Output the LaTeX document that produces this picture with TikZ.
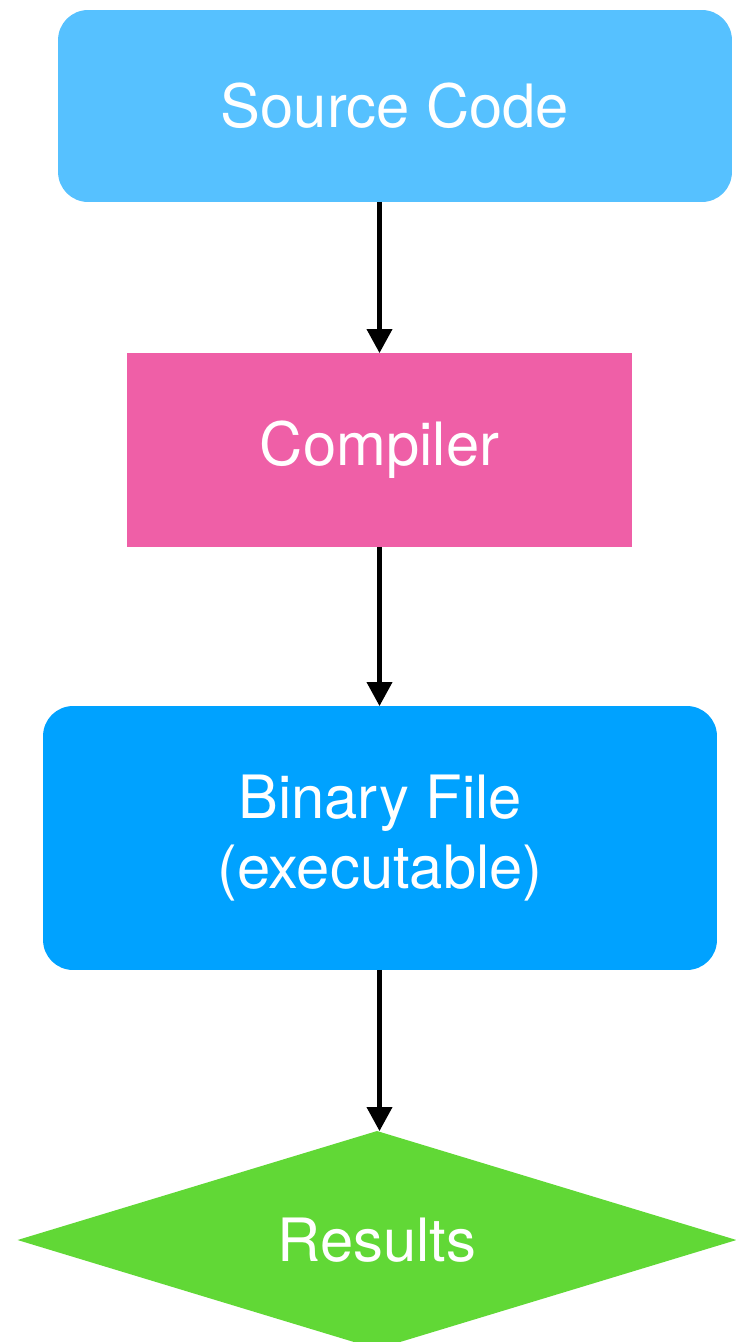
\documentclass[tikz,border=0pt]{standalone}
\usepackage{fontspec}
\setmainfont{TeX Gyre Heros}
\usetikzlibrary{arrows.meta,shapes.geometric}
\definecolor{srcblue}{HTML}{56C1FF}
\definecolor{cmppink}{HTML}{EF5FA7}
\definecolor{binblue}{HTML}{00A2FF}
\definecolor{resgreen}{HTML}{61D836}
\begin{document}
\begin{tikzpicture}[x=0.02cm, y=-0.02cm,
	box/.style={text=white, outer sep=0pt, inner sep=0pt, align=center,
		font=\fontsize{34}{40}\selectfont},
	arr/.style={line width=2.3pt, -{Triangle[length=0.48cm, width=0.5cm]}}]
	\useasboundingbox (0,0) rectangle (736,1342);
	\node[box, fill=srcblue, rounded corners=0.6cm, minimum width=13.48cm, minimum height=3.84cm] (src) at (395,106) {Source Code};
	\node[box, fill=cmppink, minimum width=10.1cm, minimum height=3.88cm] (cmp) at (379.5,450) {Compiler};
	\node[box, fill=binblue, rounded corners=0.6cm, minimum width=13.48cm, minimum height=5.28cm] (bin) at (380,838) {Binary File\\(executable)};
	\node[box, fill=resgreen, diamond, aspect=3.3, minimum width=14.38cm, minimum height=4.36cm] (res) at (377,1240) {Results};
	%% arrows
	\draw[arr] (src.south -| cmp.north) -- (cmp.north);
	\draw[arr] (cmp.south) -- (bin.north -| cmp.south);
	\draw[arr] (bin.south -| cmp.south) -- (res.north -| cmp.south);
\end{tikzpicture}
\end{document}
